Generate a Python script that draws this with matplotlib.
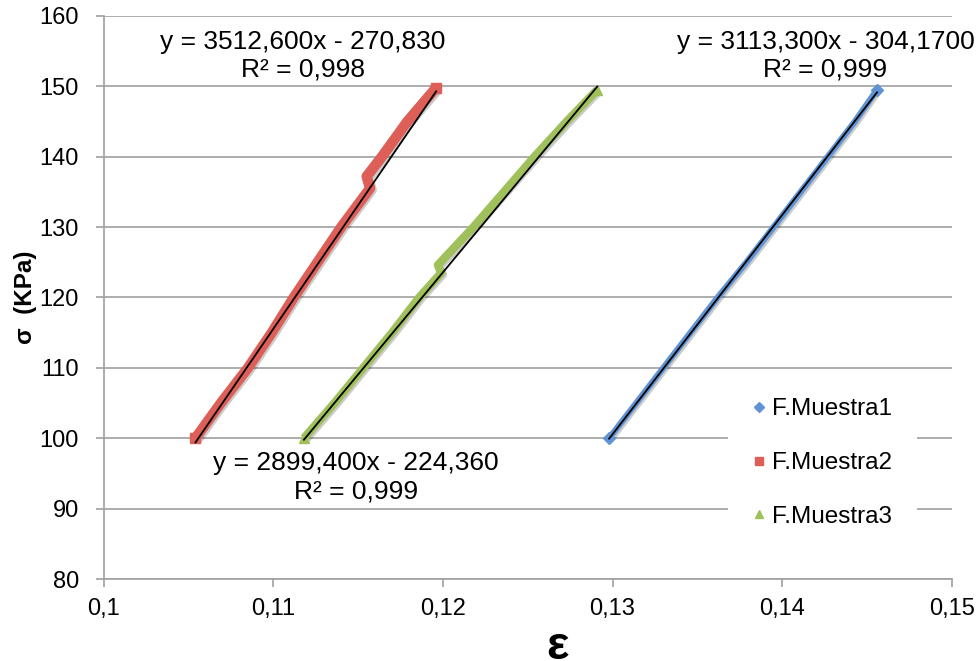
import matplotlib
matplotlib.use("Agg")
import matplotlib.pyplot as plt
import matplotlib.patheffects as pe

plt.rcParams["font.family"] = ["Liberation Sans", "DejaVu Sans"]

# Strain (x) and stress in KPa (y)
strain_1 = [0.1298, 0.1314, 0.1330, 0.1346, 0.1362, 0.1379, 0.1395, 0.1411, 0.1427, 0.1443, 0.1456]
stress_1 = [100, 105, 110, 115, 120, 125, 130, 135, 140, 145, 149.5]

strain_2 = [0.1054, 0.1069, 0.1085, 0.1099, 0.1112, 0.1126, 0.1140, 0.1157,
            0.1155, 0.1164, 0.1179, 0.1196]
stress_2 = [100, 105, 110, 115, 120, 125, 130, 135.5,
            137.2, 140, 145, 149.8]

strain_3 = [0.1118, 0.1136, 0.1153, 0.1170, 0.1186, 0.1199,
            0.1197, 0.1218, 0.1236, 0.1254, 0.1273, 0.1291]
stress_3 = [100, 105, 110, 115, 120, 123.5,
            124.6, 130, 135, 140, 145, 149.5]

labels = ["F.Muestra1", "F.Muestra2", "F.Muestra3"]
# linear trendline coefficients (slope, intercept) as shown on the chart
fits = [(3113.3, -304.17), (3512.6, -270.83), (2899.4, -224.36)]
fit_texts = [
    "y = 3113,300x - 304,1700\nR² = 0,999",
    "y = 3512,600x - 270,830\nR² = 0,998",
    "y = 2899,400x - 224,360\nR² = 0,999",
]

colors = ["#5f93d3", "#dd5f58", "#9fc05a"]
markers = ["D", "s", "^"]
msizes = [6, 7, 7]
band_lw = [4.5, 7.5, 6.0]

fig = plt.figure(figsize=(9.8, 6.61), dpi=100)
ax = fig.add_axes([0.106, 0.124, 0.865, 0.852])

series = [(strain_1, stress_1), (strain_2, stress_2), (strain_3, stress_3)]
handles = []
for (xs, ys), c, m, ms, lw, lab in zip(series, colors, markers, msizes, band_lw, labels):
    ax.plot(xs, ys, color=c, lw=lw, solid_capstyle="butt", zorder=3,
            path_effects=[pe.SimpleLineShadow(offset=(1.2, -1.2), alpha=0.2), pe.Normal()])
    ax.plot([xs[0], xs[-1]], [ys[0], ys[-1]], linestyle="none", marker=m, ms=ms,
            color=c, markeredgecolor=c, zorder=4)
    h, = ax.plot([], [], linestyle="none", marker=m, ms=ms - 1, color=c,
                 markeredgecolor=c, label=lab)
    handles.append(h)

# trendlines over the x range of each series
for (xs, ys), (m, b) in zip(series, fits):
    x0, x1 = min(xs), max(xs)
    ax.plot([x0, x1], [m * x0 + b, m * x1 + b], color="black", lw=1.3, zorder=5)

text_pos = [(0.14256, 154.3), (0.11175, 154.3), (0.11488, 94.45)]
for (tx, ty), t in zip(text_pos, fit_texts):
    ax.text(tx, ty, t, ha="center", va="center", fontsize=19, linespacing=1.2,
            zorder=6, clip_on=False)

ax.set_xlim(0.1, 0.15)
ax.set_ylim(80, 160)
ax.set_xticks([0.1, 0.11, 0.12, 0.13, 0.14, 0.15])
ax.set_xticklabels(["0,1", "0,11", "0,12", "0,13", "0,14", "0,15"])
ax.set_yticks(range(80, 161, 10))
ax.tick_params(labelsize=17, color="#a0a0a0", length=6, width=1.2)
ax.tick_params(axis="x", pad=8)
ax.tick_params(axis="y", pad=12)
ax.grid(axis="y", color="#a0a0a0", lw=1.2, zorder=0)
for side in ["top", "right"]:
    ax.spines[side].set_visible(False)
for side in ["left", "bottom"]:
    ax.spines[side].set_color("#a0a0a0")
    ax.spines[side].set_linewidth(1.2)

ax.set_ylabel("σ  (KPa)", fontsize=17.5, fontweight="bold")
ax.yaxis.set_label_coords(-0.079, 0.5)
ax.set_xlabel("ε", fontsize=34, fontweight="bold", va="center")
ax.xaxis.set_label_coords(0.535, -0.12)

leg = ax.legend(handles=handles, loc="center left", bbox_to_anchor=(0.7225, 0.206),
                frameon=True, fontsize=17.5, handlelength=0.5, handletextpad=0.3,
                labelspacing=1.3, borderpad=1.0)
leg.get_frame().set_edgecolor("none")
leg.get_frame().set_facecolor("white")
leg.get_frame().set_alpha(1.0)
leg.set_zorder(7)

fig.savefig("out.png", dpi=100)
